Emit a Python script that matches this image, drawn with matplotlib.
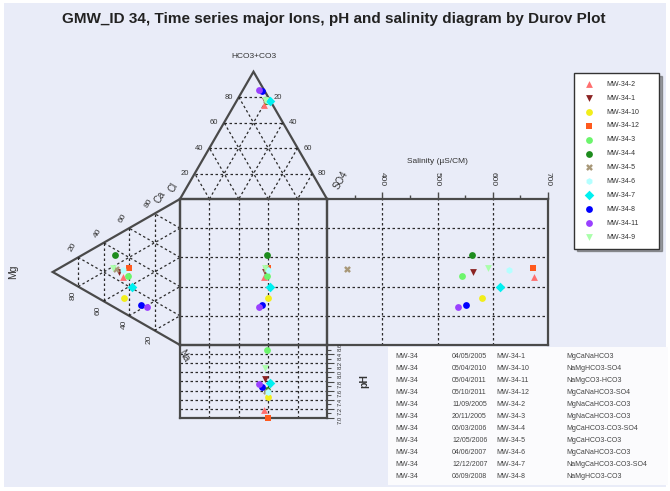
import numpy as np
import matplotlib.pyplot as plt
from matplotlib.patches import Rectangle, Polygon

plt.rcParams['font.family'] = ['Liberation Sans', 'DejaVu Sans']

W, H = 670, 491

# samples in legend order
samples = ['MW-34-2', 'MW-34-1', 'MW-34-10', 'MW-34-12', 'MW-34-3', 'MW-34-4',
           'MW-34-5', 'MW-34-6', 'MW-34-7', 'MW-34-8', 'MW-34-11', 'MW-34-9']
# cations (meq %)
ca = np.array([24, 26, 10, 33, 27, 36, 27, 29, 21, 12, 13, 26])
mg = np.array([45, 48, 44, 40, 41, 51, 50, 45, 38, 31, 26, 53])
na = np.array([31, 26, 46, 27, 32, 13, 23, 26, 41, 57, 61, 21])
# anions (meq %)
hco3 = np.array([74, 77, 77, 76, 78, 77, 78, 77, 77, 85, 86, 78])
so4 = np.array([20, 19, 21.5, 22, 20, 21, 19.5, 21.5, 22.5, 13.5, 11, 19])
cl = np.array([6, 4, 1.5, 2, 2, 2, 2.5, 1.5, 0.5, 1.5, 3, 3])
salinity = np.array([675, 564, 580, 673, 544, 562, 336, 629, 613, 551, 538, 591])
ph = np.array([7.18, 7.85, 7.46, 7.0, 8.5, 7.61, 7.6, 7.57, 7.77, 7.68, 7.75, 8.1])

colors = ['#ff6f6f', '#8b2323', '#f2ee1a', '#ff5a1e', '#6cf56c', '#1e8c1e',
          '#a89878', '#b4ffff', '#00f0f0', '#0000ff', '#9a40ff', '#aaffaa']
markers = ['^', 'v', 'o', 's', 'o', 'o', 'X', 'h', 'D', 'o', 'o', 'v']

# summary table
tbl_site = ['MW-34'] * 11
tbl_date = ['04/05/2005', '05/04/2010', '05/04/2011', '05/10/2011', '11/09/2005',
            '20/11/2005', '06/03/2006', '12/05/2006', '04/06/2007', '12/12/2007',
            '06/09/2008']
tbl_id = ['MW-34-1', 'MW-34-10', 'MW-34-11', 'MW-34-12', 'MW-34-2', 'MW-34-3',
          'MW-34-4', 'MW-34-5', 'MW-34-6', 'MW-34-7', 'MW-34-8']
tbl_type = ['MgCaNaHCO3', 'NaMgHCO3-SO4', 'NaMgCO3-HCO3', 'MgCaNaHCO3-SO4',
            'MgNaCaHCO3-CO3', 'MgNaCaHCO3-CO3', 'MgCaHCO3-CO3-SO4', 'MgCaHCO3-CO3',
            'MgCaNaHCO3-CO3', 'NaMgCaHCO3-CO3-SO4', 'NaMgHCO3-CO3']

BG = '#e9ecf8'
EDGE = '#4a4a4a'
TXT = '#333333'
dash = dict(color='#2a2a2a', lw=0.9, ls=(0, (2, 2)))

fig = plt.figure(figsize=(W / 100, H / 100), dpi=100, facecolor='white')
cv = fig.add_axes([0, 0, 1, 1])
cv.set_xlim(0, W)
cv.set_ylim(H, 0)
cv.axis('off')
cv.add_patch(Rectangle((4, 3), 662, 484, facecolor=BG, edgecolor='none'))


def fax(x0, y0, x1, y1):
    a = fig.add_axes([x0 / W, 1 - y1 / H, (x1 - x0) / W, (y1 - y0) / H])
    a.set_facecolor('none')
    for s in a.spines.values():
        s.set_color(EDGE)
        s.set_linewidth(1.6)
    return a


def tern(p, q, r, a, b, c):
    t = a + b + c
    x = (a * p[0] + b * q[0] + c * r[0]) / t
    y = (a * p[1] + b * q[1] + c * r[1]) / t
    return x, y


def tri_grid(P, Q, R):
    vs = [np.array(P), np.array(Q), np.array(R)]
    for i in range(3):
        a, b, c = vs[i], vs[(i + 1) % 3], vs[(i + 2) % 3]
        for k in (0.2, 0.4, 0.6, 0.8):
            p1 = a * k + b * (1 - k)
            p2 = a * k + c * (1 - k)
            cv.plot([p1[0], p2[0]], [p1[1], p2[1]], **dash)
    cv.add_patch(Polygon([P, Q, R], closed=True, fill=False, ec=EDGE, lw=1.6))


x0, x1, y0, y1 = 180, 327, 199, 345
side = x1 - x0
th = side * np.sqrt(3) / 2
T, L, R = (x0 + side / 2, y0 - th), (x0, y0), (x1, y0)        # anion triangle
A, B, C = (x0 - th, (y0 + y1) / 2), (x0, y0), (x0, y1)        # cation triangle
tri_grid(T, L, R)
tri_grid(A, B, C)

# anion triangle labels
for k, lab in zip((0.2, 0.4, 0.6, 0.8), ('20', '40', '60', '80')):
    yy = y0 - k * th
    cv.text(L[0] + k * side / 2 - 10, yy, lab, fontsize=5.5, color=TXT, ha='center', va='center')
for k, lab in zip((0.8, 0.6, 0.4, 0.2), ('20', '40', '60', '80')):
    yy = y0 - k * th
    cv.text(R[0] - k * side / 2 + 10, yy, lab, fontsize=5.5, color=TXT, ha='center', va='center')
cv.text(T[0], 56, 'HCO3+CO3', fontsize=6, color=TXT, ha='center', va='center')
cv.text(341, 180, 'SO4', fontsize=7, color=TXT, ha='center', va='center', rotation=60)
cv.text(173, 188, 'Cl', fontsize=7, color=TXT, ha='center', va='center', rotation=60)

# cation triangle labels
for k, lab in zip((0.2, 0.4, 0.6, 0.8), ('20', '40', '60', '80')):
    px = A[0] + k * (B[0] - A[0]) - 6
    py = A[1] + k * (B[1] - A[1]) - 10
    cv.text(px, py, lab, fontsize=6, color=TXT, ha='center', va='center', rotation=60)
for k, lab in zip((0.2, 0.4, 0.6, 0.8), ('80', '60', '40', '20')):
    px = A[0] + k * (C[0] - A[0]) - 5
    py = A[1] + k * (C[1] - A[1]) + 9
    cv.text(px, py, lab, fontsize=6, color=TXT, ha='center', va='center', rotation=90)
cv.text(160, 197, 'Ca', fontsize=7, color=TXT, ha='center', va='center', rotation=60)
cv.text(13, 272, 'Mg', fontsize=7.5, color=TXT, ha='center', va='center', rotation=90)
cv.text(184, 356, 'Na', fontsize=7, color=TXT, ha='center', va='center', rotation=-60)

# central square
sq = fax(x0, y0, x1, y1)
sq.set_xlim(-1, 1)
sq.set_ylim(1, -1)
sq.set_xticks([])
sq.set_yticks([])
for g in (-0.6, -0.2, 0.2, 0.6):
    sq.axvline(g, **dash)
    sq.axhline(g, **dash)

# salinity box
sal = fax(327, y0, 548, y1)
sal.set_xlim(300, 700)
sal.set_ylim(1, -1)
sal.set_yticks([])
sal.xaxis.tick_top()
sal.xaxis.set_label_position('top')
sal.set_xticks([400, 500, 600, 700])
sal.set_xticks([350, 450, 550, 650], minor=True)
sal.tick_params(axis='x', which='major', length=5, width=1, color=EDGE,
                labelsize=6, labelcolor=TXT, labelrotation=-90, pad=4)
sal.tick_params(axis='x', which='minor', length=3, width=1, color=EDGE)
sal.set_xlabel('Salinity (\u00b5S/CM)', fontsize=6, color=TXT, labelpad=7)
for g in (400, 500, 600):
    sal.axvline(g, **dash)
for g in (-0.6, -0.2, 0.2, 0.6):
    sal.axhline(g, **dash)

# pH box
pha = fax(x0, y1, x1, 418)
pha.set_xlim(-1, 1)
pha.set_ylim(7.0, 8.6)
pha.set_xticks([])
pha.yaxis.tick_right()
pha.yaxis.set_label_position('right')
pha.set_yticks(np.round(np.arange(7.0, 8.61, 0.2), 1))
pha.set_yticklabels(['%.1f' % v for v in np.arange(7.0, 8.61, 0.2)])
pha.set_yticks(np.round(np.arange(7.1, 8.6, 0.2), 1), minor=True)
pha.tick_params(axis='y', which='major', length=5, width=0.8, color=EDGE,
                labelsize=4.2, labelcolor=TXT, labelrotation=90, pad=3)
pha.tick_params(axis='y', which='minor', length=3, width=0.8, color=EDGE)
pha.set_ylabel('pH', fontsize=7.5, fontweight='bold', color=TXT, rotation=90, labelpad=12)
for g in (-0.6, -0.2, 0.2, 0.6):
    pha.axvline(g, **dash)
for g in np.arange(7.2, 8.5, 0.2):
    pha.axhline(g, **dash)

# samples
ax_an = (so4 - cl) / 100.0
ax_cat = (na - ca) / 100.0
tx, ty = tern(T, L, R, hco3, cl, so4)
lx, ly = tern(A, B, C, mg, ca, na)
handles = []
for i, name in enumerate(samples):
    kw = dict(s=24, c=colors[i], marker=markers[i], linewidths=0, zorder=5, clip_on=False)
    h = sq.scatter(ax_an[i], ax_cat[i], **kw)
    sal.scatter(salinity[i], ax_cat[i], **kw)
    pha.scatter(ax_an[i], ph[i], **kw)
    cv.scatter(tx[i], ty[i], **kw)
    cv.scatter(lx[i], ly[i], **kw)
    handles.append(h)

leg = fig.legend(handles, samples, loc='upper left',
                 bbox_to_anchor=(574 / W, 1 - 257 / H, 85 / W, 184 / H), mode='expand',
                 fontsize=5, labelspacing=1.0, borderpad=1.1, handlelength=2,
                 handletextpad=1.6, scatterpoints=1, fancybox=False, shadow=True,
                 borderaxespad=0, labelcolor=TXT)
leg.get_frame().set_edgecolor('#333333')
leg.get_frame().set_linewidth(1.0)
leg.get_frame().set_facecolor('white')

# table
cv.add_patch(Rectangle((388, 347), 280, 138, facecolor='#fbfbfd', edgecolor='none'))
for i in range(len(tbl_id)):
    yy = 356 + i * 12.1
    cv.text(395, yy, tbl_site[i], fontsize=5, color='#444444', va='center')
    cv.text(452, yy, tbl_date[i], fontsize=5, color='#444444', va='center')
    cv.text(496, yy, tbl_id[i], fontsize=5, color='#444444', va='center')
    cv.text(566, yy, tbl_type[i], fontsize=5, color='#444444', va='center')

cv.text(334, 19, 'GMW_ID 34, Time series major Ions, pH and salinity diagram by Durov Plot',
        fontsize=11, fontweight='bold', color='#222222', ha='center', va='center')

fig.savefig('out.png', dpi=100, facecolor=fig.get_facecolor())
